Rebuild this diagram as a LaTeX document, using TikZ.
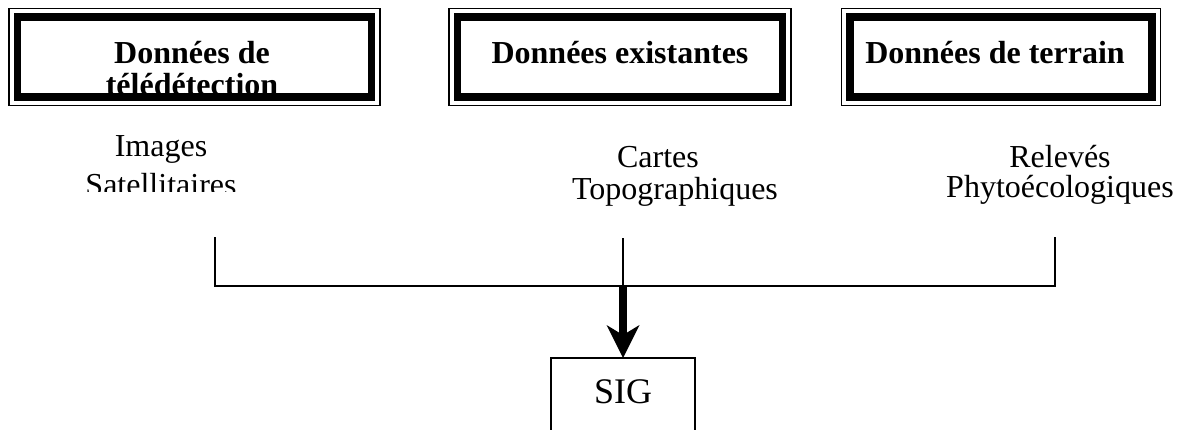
\documentclass[tikz,border=0pt]{standalone}
\usepackage{fontspec}
\setmainfont{Liberation Serif}
\usetikzlibrary{arrows.meta,calc}
\begin{document}
\begin{tikzpicture}[x=0.5pt,y=-0.5pt,
  boxtitle/.style={font=\fontsize{16}{19}\selectfont\bfseries, anchor=base, inner sep=0pt},
  srctext/.style={font=\fontsize{16}{19}\selectfont, anchor=base, inner sep=0pt},
  databox/.style={draw, line width=3.75pt, minimum height=40pt, inner sep=0pt, outer sep=0pt},
  outerframe/.style={draw, line width=0.6pt},
  joinline/.style={line width=0.8pt},
  flow/.style={line width=3.75pt, -{Stealth[length=16.5pt,width=16.5pt,inset=5pt,line width=0pt]}},
  sigbox/.style={draw, line width=1pt, minimum width=72pt, inner sep=0pt, outer sep=0pt,
    text height=22.5pt, text depth=40pt, anchor=north, font=\fontsize{18}{22}\selectfont}]
\clip (0,0) rectangle (1178,429);
% titles (drawn before the frames so that the frames cover them)
\node[boxtitle] (t1a) at (192,63) {Données de};
\node[boxtitle] (t1b) at (192,95) {télédétection};
\node[boxtitle] (t2) at (620,63) {Données existantes};
\node[boxtitle] (t3) at (995,63) {Données de terrain};
% boxes
\node[databox, minimum width=177pt] (b1) at (194.5,57) {};
\node[databox, minimum width=162.5pt] (b2) at (620,57) {};
\node[databox, minimum width=151pt] (b3) at (1001,57) {};
\foreach \b in {b1,b2,b3}{
  \draw[outerframe] ($(\b.north west)+(-8.5,-8.5)$) rectangle ($(\b.south east)+(8.5,8.5)$);
}
% source texts
\node[srctext] (s1a) at (161,156) {Images};
\begin{scope}
\clip (0,0) rectangle (420,191);
\node[srctext] (s1b) at (161,195) {Satellitaires};
\end{scope}
\node[srctext] (s2a) at (658,167) {Cartes};
\node[srctext] (s2b) at (675,199) {Topographiques};
\node[srctext] (s3a) at (1060,167) {Relevés};
\node[srctext] (s3b) at (1060,197) {Phytoécologiques};
% connectors
\coordinate (c1) at (215,237);
\coordinate (c2) at (623,238);
\coordinate (c3) at (1055,237);
\coordinate (hub) at (623,286);
\draw[joinline] (c1) |- (hub) -| (c3);
\draw[joinline] (c2) -- (hub);
\node[sigbox] (sig) at (623,358) {SIG};
\draw[flow] (hub) -- (sig.north);
\end{tikzpicture}
\end{document}
